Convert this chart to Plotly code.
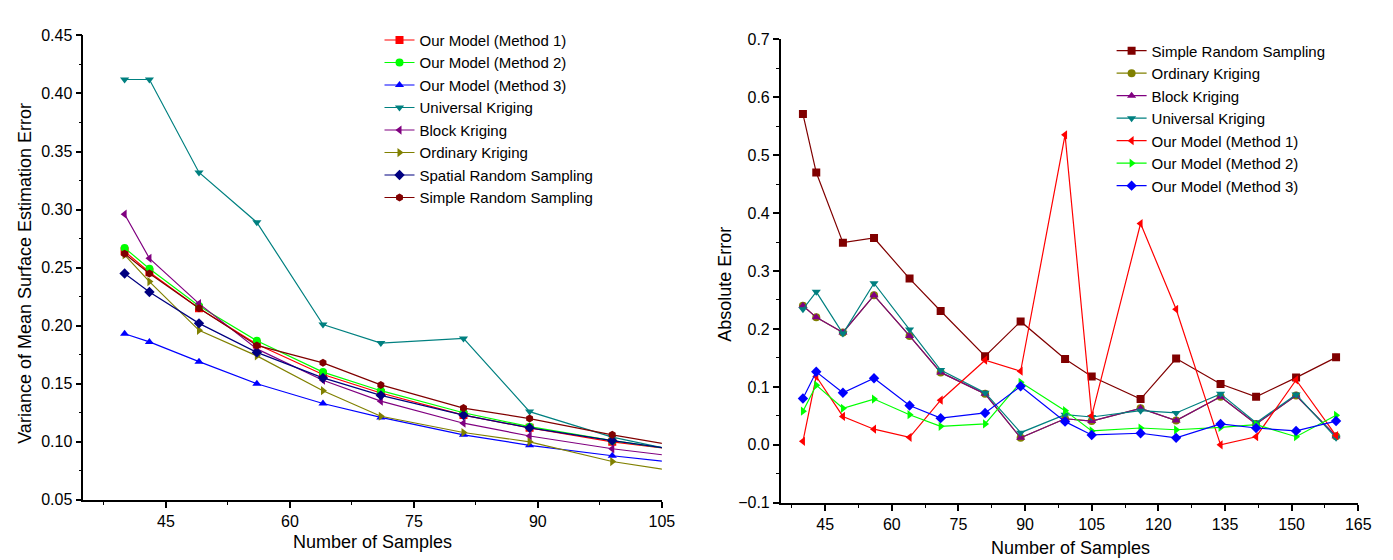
import plotly.graph_objects as go

# ---------------- Left chart data ----------------
left_x = [40, 43, 49, 56, 64, 71, 81, 89, 99, 106]
left_names = ["Our Model (Method 1)", "Our Model (Method 2)", "Our Model (Method 3)",
              "Universal Kriging", "Block Kriging", "Ordinary Kriging",
              "Spatial Random Sampling", "Simple Random Sampling"]
l_m1 = [0.264, 0.246, 0.215, 0.184, 0.158, 0.142, 0.123, 0.112, 0.100, 0.094]
l_m2 = [0.267, 0.249, 0.217, 0.187, 0.160, 0.144, 0.125, 0.113, 0.101, 0.094]
l_m3 = [0.193, 0.186, 0.169, 0.150, 0.133, 0.121, 0.106, 0.097, 0.088, 0.0825]
l_uk = [0.412, 0.412, 0.332, 0.289, 0.201, 0.185, 0.189, 0.126, 0.104, 0.0935]
l_bk = [0.296, 0.258, 0.219, 0.180, 0.153, 0.135, 0.116, 0.105, 0.094, 0.088]
l_ok = [0.261, 0.238, 0.196, 0.174, 0.144, 0.122, 0.108, 0.100, 0.083, 0.0755]
l_sprs = [0.245, 0.229, 0.202, 0.177, 0.155, 0.140, 0.123, 0.112, 0.101, 0.094]
l_srs = [0.262, 0.245, 0.215, 0.183, 0.168, 0.149, 0.129, 0.120, 0.106, 0.0974]

# ---------------- Right chart data ----------------
right_x = [40, 43, 49, 56, 64, 71, 81, 89, 99, 105, 116, 124, 134, 142, 151, 160]
right_names = ["Simple Random Sampling", "Ordinary Kriging", "Block Kriging",
               "Universal Kriging", "Our Model (Method 1)", "Our Model (Method 2)",
               "Our Model (Method 3)"]
r_srs = [0.571, 0.470, 0.349, 0.357, 0.287, 0.231, 0.153, 0.213, 0.148, 0.118,
         0.079, 0.149, 0.105, 0.083, 0.116, 0.151]
r_bk = [0.240, 0.220, 0.194, 0.258, 0.188, 0.125, 0.088, 0.012, 0.045, 0.041,
        0.063, 0.042, 0.083, 0.036, 0.085, 0.015]
r_ok = list(r_bk)
r_uk = [0.234, 0.264, 0.192, 0.279, 0.199, 0.129, 0.090, 0.021, 0.052, 0.048,
        0.059, 0.055, 0.088, 0.038, 0.087, 0.012]
r_m1 = [0.006, 0.118, 0.049, 0.027, 0.013, 0.077, 0.146, 0.127, 0.535, 0.050,
        0.382, 0.234, 0.000, 0.014, 0.112, 0.016]
r_m2 = [0.058, 0.103, 0.063, 0.079, 0.052, 0.032, 0.036, 0.108, 0.059, 0.024,
        0.029, 0.026, 0.030, 0.035, 0.014, 0.051]
r_m3 = [0.080, 0.126, 0.090, 0.115, 0.068, 0.046, 0.055, 0.101, 0.040, 0.017,
        0.020, 0.012, 0.036, 0.029, 0.024, 0.041]

left_series = [l_m1, l_m2, l_m3, l_uk, l_bk, l_ok, l_sprs, l_srs]
left_colors = ["#FF0000", "#00FF00", "#0000FF", "#008080", "#800080", "#808000", "#000080", "#800000"]
left_symbols = ["square", "circle", "triangle-up", "triangle-down", "triangle-left",
                "triangle-right", "diamond", "hexagon"]

right_series = [r_srs, r_ok, r_bk, r_uk, r_m1, r_m2, r_m3]
right_colors = ["#800000", "#808000", "#800080", "#008080", "#FF0000", "#00FF00", "#0000FF"]
right_symbols = ["square", "circle", "triangle-up", "triangle-down", "triangle-left",
                 "triangle-right", "diamond"]

FONT = "Liberation Sans, Arial, sans-serif"
fig = go.Figure()

for name, ys, c, s in zip(left_names, left_series, left_colors, left_symbols):
    fig.add_trace(go.Scatter(x=left_x, y=ys, name=name, mode="lines+markers",
                             line=dict(color=c, width=1.2),
                             marker=dict(color=c, symbol=s, size=8),
                             xaxis="x", yaxis="y", legend="legend"))

for name, ys, c, s in zip(right_names, right_series, right_colors, right_symbols):
    fig.add_trace(go.Scatter(x=right_x, y=ys, name=name, mode="lines+markers",
                             line=dict(color=c, width=1.2),
                             marker=dict(color=c, symbol=s, size=8),
                             xaxis="x2", yaxis="y2", legend="legend2"))

W, H = 1393, 560
def px_x(p):
    return p / W
def px_y(p):
    return 1 - p / H

axis_common = dict(showline=True, linecolor="black", linewidth=1.5, ticks="outside",
                   ticklen=6, tickwidth=1.5, tickcolor="black", showgrid=False,
                   zeroline=False, mirror=False,
                   tickfont=dict(family=FONT, size=16, color="black"))
minor_common = dict(ticks="outside", ticklen=3, tickcolor="black", tickwidth=1.2, tick0=0)

def ann(text, x, y, angle=0):
    return dict(text=text, x=px_x(x), y=px_y(y), xref="paper", yref="paper",
                xanchor="center", yanchor="middle", showarrow=False, textangle=angle,
                font=dict(family=FONT, size=18, color="black"))

fig.update_layout(
    width=W, height=H,
    margin=dict(l=0, r=0, t=0, b=0),
    paper_bgcolor="white", plot_bgcolor="white",
    font=dict(family=FONT, color="black"),
    xaxis=dict(domain=[px_x(76), px_x(660)], range=[35, 105], dtick=15, tick0=0,
               minor=dict(dtick=7.5, **minor_common), anchor="y", **axis_common),
    yaxis=dict(domain=[px_y(499), px_y(20)], range=[0.05, 0.45], dtick=0.05, tick0=0,
               tickformat=".2f", minor=dict(dtick=0.025, **minor_common),
               anchor="x", **axis_common),
    xaxis2=dict(domain=[px_x(780), px_x(1363)], range=[35, 165], dtick=15, tick0=0,
                minor=dict(dtick=7.5, **minor_common), anchor="y2", **axis_common),
    yaxis2=dict(domain=[px_y(502), px_y(24)], range=[-0.1, 0.7], dtick=0.1, tick0=0,
                tickformat=".1f", minor=dict(dtick=0.05, **minor_common),
                anchor="x2", **axis_common),
    legend=dict(x=px_x(375), y=px_y(8), xanchor="left", yanchor="top",
                bgcolor="rgba(0,0,0,0)", tracegroupgap=0,
                font=dict(family=FONT, size=15, color="black"), itemwidth=30),
    legend2=dict(x=px_x(1114), y=px_y(19), xanchor="left", yanchor="top",
                 bgcolor="rgba(0,0,0,0)", tracegroupgap=0,
                 font=dict(family=FONT, size=15, color="black"), itemwidth=30),
    annotations=[
        ann("Number of Samples", 368, 542),
        ann("Number of Samples", 1073, 549),
        ann("Variance of Mean Surface Estimation Error", 17, 265, -90),
        ann("Absolute Error", 723, 277, -90),
    ],
)

fig.write_html("out.html")
